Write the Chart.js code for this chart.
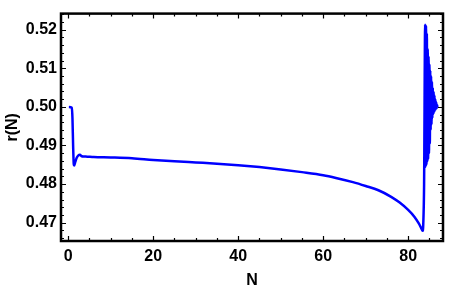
<!DOCTYPE html>
<html>
<head>
<meta charset="utf-8">
<script src="https://cdn.jsdelivr.net/npm/chart.js@4"></script>
<style>
  body { margin: 0; background: #fff; }
  #wrap { width: 450px; height: 291px; }
</style>
</head>
<body>
<div id="wrap"><canvas id="chart"></canvas></div>
<script>
// data
const nValues = [0.15, 0.85, 1.0, 1.15, 1.3, 1.4, 1.6, 2.0, 2.4, 2.75, 3.2, 3.6, 4.5, 6, 10, 15, 20, 25, 30, 35, 40, 45, 50, 55, 60, 63, 67, 70, 73, 76, 78, 80, 81.5, 82.5, 83.1, 83.4, 83.55, 83.75,
  84.0, 84.1, 84.2, 84.3, 84.4, 84.5, 84.6, 84.7, 84.8, 84.9, 85.0, 85.1, 85.2, 85.3, 85.4, 85.5, 85.6, 85.7, 85.8, 85.9,
  86.0, 86.1, 86.2, 86.3, 86.4, 86.5, 86.6, 86.7, 86.8, 86.9];
const rValues = [0.5000, 0.4998, 0.4970, 0.4900, 0.4852, 0.4848, 0.4855, 0.4868, 0.48745, 0.48757, 0.4872, 0.48715, 0.4871, 0.4870, 0.4869, 0.4867, 0.48625, 0.4859, 0.4856, 0.4853, 0.4849, 0.4844, 0.4838, 0.4831, 0.4823, 0.4816, 0.4805, 0.4795, 0.4784, 0.4767, 0.4752, 0.4733, 0.4715, 0.4698, 0.4685, 0.4679, 0.4695, 0.4800,
  0.5213, 0.4845, 0.5210, 0.4850, 0.5190, 0.4858, 0.5150, 0.4865, 0.5130, 0.4880, 0.5110, 0.4905, 0.5095, 0.4940, 0.5080, 0.4955, 0.5065, 0.4970, 0.5050, 0.4980,
  0.5040, 0.4985, 0.5030, 0.4990, 0.5020, 0.4994, 0.5012, 0.4997, 0.5005, 0.5000];

const xTicks = [0, 20, 40, 60, 80];
const yTicks = [0.47, 0.48, 0.49, 0.50, 0.51, 0.52];
const xMinorStep = 5;
const yMinorStep = 0.002;

const points = nValues.map((n, i) => ({ x: n, y: rValues[i] }));

// frame + inward ticks on all four sides, like the original
const framePlugin = {
  id: "frame",
  afterDraw(chart) {
    const ctx = chart.ctx;
    const a = chart.chartArea;
    const xs = chart.scales.x, ys = chart.scales.y;
    ctx.save();
    ctx.strokeStyle = "#000";
    ctx.lineWidth = 1.2;
    ctx.beginPath();
    // x ticks
    for (let v = -5; v <= 90; v += xMinorStep) {
      if (v < xs.min || v > xs.max) continue;
      const px = Math.round(xs.getPixelForValue(v)) + 0.5;
      const len = xTicks.includes(v) ? 5 : 3;
      ctx.moveTo(px, a.bottom); ctx.lineTo(px, a.bottom - len);
      ctx.moveTo(px, a.top); ctx.lineTo(px, a.top + len);
    }
    // y ticks
    for (let i = 0; i < 40; i++) {
      const v = 0.46 + i * yMinorStep;
      if (v < ys.min || v > ys.max) continue;
      const major = yTicks.some(t => Math.abs(t - v) < 1e-6);
      const py = Math.round(ys.getPixelForValue(v)) + 0.5;
      const len = major ? 5 : 3;
      ctx.moveTo(a.left, py); ctx.lineTo(a.left + len, py);
      ctx.moveTo(a.right, py); ctx.lineTo(a.right - len, py);
    }
    ctx.stroke();
    ctx.lineWidth = 2.5;
    ctx.strokeRect(a.left, a.top, a.right - a.left, a.bottom - a.top);
    ctx.restore();
  }
};

const labelFont = { family: "'Liberation Sans', Arial, sans-serif", size: 16, weight: "bold" };

new Chart(document.getElementById("chart"), {
  type: "scatter",
  data: {
    datasets: [{
      data: points,
      showLine: true,
      borderColor: "#0000ff",
      borderWidth: 2.5,
      pointRadius: 0,
      cubicInterpolationMode: "monotone"
    }]
  },
  options: {
    responsive: true,
    maintainAspectRatio: false,
    animation: false,
    layout: { padding: { top: 5, right: 7, left: 0, bottom: 0 } },
    plugins: { legend: { display: false }, tooltip: { enabled: false } },
    scales: {
      x: {
        type: "linear",
        min: -1.7,
        max: 88.2,
        afterBuildTicks: s => { s.ticks = xTicks.map(v => ({ value: v })); },
        afterFit: s => { s.height = 50; },
        grid: { display: false, drawTicks: false },
        border: { display: false },
        ticks: { color: "#000", font: labelFont, padding: 6, maxRotation: 0 },
        title: { display: true, text: "N", color: "#000", font: labelFont, padding: { top: 0, bottom: 1 } }
      },
      y: {
        type: "linear",
        min: 0.46525,
        max: 0.52418,
        afterBuildTicks: s => { s.ticks = yTicks.map(v => ({ value: v })); },
        afterFit: s => { s.width = 61; },
        grid: { display: false, drawTicks: false },
        border: { display: false },
        ticks: { color: "#000", font: labelFont, padding: 4, callback: v => v.toFixed(2) },
        title: { display: true, text: "r(N)", color: "#000", font: labelFont, padding: { top: 3, bottom: 0 } }
      }
    }
  },
  plugins: [framePlugin]
});
</script>
</body>
</html>
